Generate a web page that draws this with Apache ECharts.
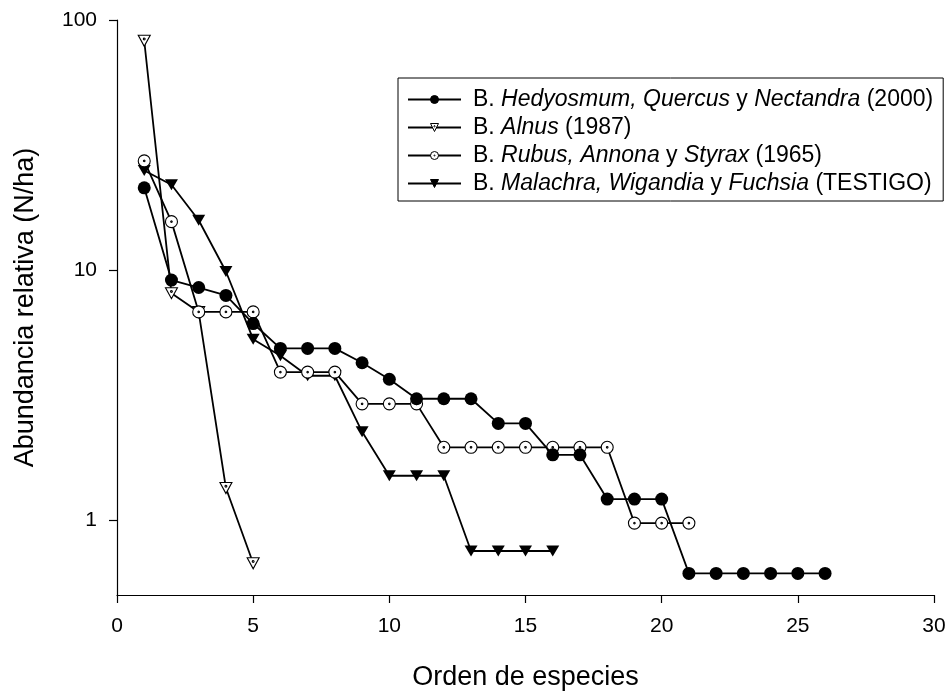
<!DOCTYPE html>
<html>
<head>
<meta charset="utf-8">
<script src="https://cdn.jsdelivr.net/npm/echarts@6/dist/echarts.min.js"></script>
<style>
html,body{margin:0;padding:0;background:#fff;}
#chart{width:950px;height:693px;}
</style>
</head>
<body>
<div id="chart"></div>
<script>
// ---- data ----
var seriesNames = [
  'B. Hedyosmum, Quercus y Nectandra (2000)',
  'B. Alnus (1987)',
  'B. Rubus, Annona y Styrax (1965)',
  'B. Malachra, Wigandia y Fuchsia (TESTIGO)'
];
var legendRich = [
  '{n|B. }{i|Hedyosmum, Quercus}{n| y }{i|Nectandra}{n| (2000)}',
  '{n|B. }{i|Alnus}{n| (1987)}',
  '{n|B. }{i|Rubus, Annona}{n| y }{i|Styrax}{n| (1965)}',
  '{n|B. }{i|Malachra, Wigandia}{n| y }{i|Fuchsia}{n| (TESTIGO)}'
];
var hedyosmum = [21.3, 9.1, 8.5, 7.9, 6.1, 4.85, 4.85, 4.85, 4.25, 3.65, 3.05, 3.05, 3.05, 2.43, 2.43, 1.82, 1.82, 1.21, 1.21, 1.21, 0.61, 0.61, 0.61, 0.61, 0.61, 0.61];
var alnus = [82.6, 8.07, 6.78, 1.34, 0.67];
var rubus = [27.3, 15.6, 6.79, 6.79, 6.79, 3.9, 3.9, 3.9, 2.91, 2.91, 2.91, 1.95, 1.95, 1.95, 1.95, 1.95, 1.95, 1.95, 0.97, 0.97, 0.97];
var malachra = [25.0, 21.9, 15.8, 9.85, 5.28, 4.53, 3.77, 3.77, 2.25, 1.5, 1.5, 1.5, 0.75, 0.75, 0.75, 0.75];
var xTicks = [0, 5, 10, 15, 20, 25, 30];
var yTicks = [1, 10, 100];
var xTitle = 'Orden de especies';
var yTitle = 'Abundancia relativa (N/ha)';

function pairs(arr) { return arr.map(function (v, i) { return [i + 1, v]; }); }

var FONT = '"Liberation Sans", Arial, sans-serif';
var circleDot = 'path://M0,-10A10,10,0,1,1,0,10A10,10,0,1,1,0,-10ZM0,-1.3A1.3,1.3,0,1,1,0,1.3A1.3,1.3,0,1,1,0,-1.3Z';
var triDot = 'path://M-10,-8.66L10,-8.66L0,8.66ZM0,-4.2A1.5,1.5,0,1,1,0,-1.2A1.5,1.5,0,1,1,0,-4.2Z';
var triDown = 'path://M-10,-8.66L10,-8.66L0,8.66Z';

var lineStyle = { color: '#000', width: 1.8 };

var chart = echarts.init(document.getElementById('chart'), null, { renderer: 'canvas' });
var option = {
  backgroundColor: '#fff',
  animation: false,
  grid: { left: 117, right: 16, top: 20, bottom: 98, containLabel: false, outerBoundsMode: 'none' },
  xAxis: {
    type: 'value', min: 0, max: 30, interval: 5,
    name: xTitle, nameLocation: 'middle', nameGap: 69,
    nameTextStyle: { fontFamily: FONT, fontSize: 27, color: '#000' },
    axisLine: { show: true, onZero: false, lineStyle: { color: '#000', width: 1.2 } },
    axisTick: { show: true, inside: false, length: 8, lineStyle: { color: '#000', width: 1.2 }, customValues: xTicks },
    axisLabel: { fontFamily: FONT, fontSize: 21, color: '#000', margin: 21, customValues: xTicks },
    splitLine: { show: false }
  },
  yAxis: {
    type: 'log', logBase: 10, min: 0.5, max: 100,
    name: yTitle, nameLocation: 'middle', nameGap: 78,
    nameTextStyle: { fontFamily: FONT, fontSize: 27, color: '#000' },
    axisLine: { show: true, lineStyle: { color: '#000', width: 1.2 } },
    axisTick: { show: true, inside: false, length: 8, lineStyle: { color: '#000', width: 1.2 }, customValues: yTicks },
    axisLabel: { fontFamily: FONT, fontSize: 21, color: '#000', margin: 20, customValues: yTicks },
    minorTick: { show: false },
    splitLine: { show: false }
  },
  legend: {
    show: true,
    orient: 'vertical',
    left: 398, top: 78,
    padding: [10, 10, 6, 9],
    itemGap: 5,
    itemWidth: 53,
    itemHeight: 10,
    borderColor: '#000',
    borderWidth: 1,
    itemStyle: { borderWidth: 1 },
    data: seriesNames,
    formatter: function (name) { return legendRich[seriesNames.indexOf(name)]; },
    textStyle: {
      fontFamily: FONT, fontSize: 23, color: '#000', padding: [0, 0, 0, 7],
      rich: {
        n: { fontFamily: FONT, fontSize: 23, color: '#000' },
        i: { fontFamily: FONT, fontSize: 23, color: '#000', fontStyle: 'italic' }
      }
    }
  },
  series: [
    {
      name: seriesNames[0], type: 'line', data: pairs(hedyosmum),
      symbol: 'circle', symbolSize: 13,
      itemStyle: { color: '#000', borderColor: '#000', borderWidth: 0 },
      lineStyle: lineStyle, z: 5
    },
    {
      name: seriesNames[1], type: 'line', data: pairs(alnus),
      symbol: triDot, symbolSize: [12, 11],
      itemStyle: { color: '#fff', borderColor: '#000', borderWidth: 1.1 },
      lineStyle: lineStyle, z: 3
    },
    {
      name: seriesNames[2], type: 'line', data: pairs(rubus),
      symbol: circleDot, symbolSize: 12,
      itemStyle: { color: '#fff', borderColor: '#000', borderWidth: 1.1 },
      lineStyle: lineStyle, z: 4
    },
    {
      name: seriesNames[3], type: 'line', data: pairs(malachra),
      symbol: triDown, symbolSize: [13, 11],
      itemStyle: { color: '#000', borderColor: '#000', borderWidth: 0 },
      lineStyle: lineStyle, z: 2
    }
  ]
};
chart.setOption(option);
</script>
</body>
</html>
